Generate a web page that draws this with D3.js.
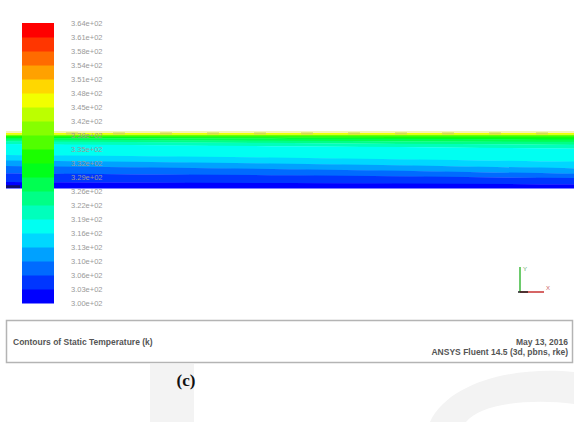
<!DOCTYPE html>
<html>
<head>
<meta charset="utf-8">
<script src="https://cdn.jsdelivr.net/npm/d3@7"></script>
<style>
body{margin:0;background:#fff;}
svg{display:block;}
</style>
</head>
<body>
<script>
// contour levels (K), top to bottom of the colour bar
var levelLabels=["3.64e+02","3.61e+02","3.58e+02","3.54e+02","3.51e+02","3.48e+02","3.45e+02","3.42e+02","3.38e+02","3.35e+02","3.32e+02","3.29e+02","3.26e+02","3.22e+02","3.19e+02","3.16e+02","3.13e+02","3.10e+02","3.06e+02","3.03e+02","3.00e+02"];
var bandCount=20;

// field: band index (0 = coldest) and depth of each band's lower edge
// 0 = top wall, 1 = bottom wall, read at inlet / middle / outlet
var fieldBands=[14,13,12,11,10,9,8,7,6,5,4,3,2,1,0];
var depthInlet=[0.025,0.035,0.045,0.055,0.07,0.09,0.12,0.15,0.20,0.40,0.50,0.60,0.73,0.89,1];
var depthMid=[0.025,0.035,0.045,0.06,0.08,0.10,0.14,0.18,0.24,0.45,0.56,0.66,0.77,0.91,1];
var depthOutlet=[0.025,0.035,0.045,0.06,0.085,0.12,0.16,0.21,0.28,0.52,0.64,0.74,0.82,0.93,1];
var stations=[0,0.5,1];

var titleLeft="Contours of Static Temperature (k)";
var dateText="May 13, 2016";
var versionText="ANSYS Fluent 14.5 (3d, pbns, rke)";
var caption="(c)";

var W=574,H=422;
var svg=d3.select("body").append("svg").attr("width",W).attr("height",H);

var color=d3.scaleLinear()
	.domain([0,0.25,0.5,0.75,1])
	.range(["#0000ff","#00ffff","#00ff00","#ffff00","#ff0000"]);
function bandColor(k){return color(k/(bandCount-1));}

// faint watermark shapes behind everything
var wm=svg.append("g").attr("fill","#f3f3f3");
wm.append("rect").attr("x",150).attr("y",364).attr("width",44).attr("height",58);
wm.append("path").attr("d","M430,422 C450,380 520,366 574,372 L574,404 C530,398 480,404 466,422 Z");

// ---- field ----
var fx=d3.scaleLinear().domain([0,1]).range([6,574]);
var fy=d3.scaleLinear().domain([0,1]).range([133,188]);
var depths=[depthInlet,depthMid,depthOutlet];

var field=svg.append("g");
fieldBands.forEach(function(k,i){
	var pts=stations.map(function(s,j){
		return {s:s,top:i==0?0:depths[j][i-1],bot:depths[j][i]};
	});
	var area=d3.area()
		.x(function(d){return fx(d.s);})
		.y0(function(d){return fy(d.top);})
		.y1(function(d){return fy(d.bot)+0.4;})
		.curve(d3.curveMonotoneX);
	field.append("path").attr("d",area(pts)).attr("fill",bandColor(k));
});
// dark seam at the inlet bottom corner
field.append("rect").attr("x",fx(0)).attr("y",fy(0.95)).attr("width",14).attr("height",fy(1)-fy(0.95)).attr("fill","#10106a");
// pale edge and dashed yellow marks along the top wall
field.append("line").attr("x1",fx(0)).attr("x2",fx(1)).attr("y1",fy(0)-1).attr("y2",fy(0)-1)
	.attr("stroke","#f3efa0").attr("stroke-width",1.5);
field.append("line").attr("x1",fx(0)+60).attr("x2",fx(1)).attr("y1",fy(0)+0.5).attr("y2",fy(0)+0.5)
	.attr("stroke","#d8dc48").attr("stroke-width",2).attr("stroke-dasharray","12,35");

// ---- colour bar ----
var ly=d3.scaleLinear().domain([0,bandCount]).range([303,23]);
var legend=svg.append("g");
legend.selectAll("rect").data(d3.range(bandCount)).enter().append("rect")
	.attr("x",22).attr("width",32)
	.attr("y",function(k){return ly(k+1);})
	.attr("height",function(k){return ly(k)-ly(k+1)+0.5;})
	.attr("fill",function(k){return bandColor(k);});
legend.selectAll("text").data(levelLabels).enter().append("text")
	.attr("x",71)
	.attr("y",function(d,i){return ly(bandCount-i)+2.5;})
	.attr("font-family","Liberation Sans, Arial, sans-serif")
	.attr("font-size",7.5)
	.attr("fill","#9a9a9a")
	.text(function(d){return d;});

// ---- axis triad ----
var triad=svg.append("g").attr("stroke-width",1.5);
triad.append("line").attr("x1",520).attr("y1",292).attr("x2",520).attr("y2",267).attr("stroke","#3cba3c");
triad.append("line").attr("x1",520).attr("y1",292).attr("x2",544).attr("y2",292).attr("stroke","#c83232");
triad.append("line").attr("x1",518).attr("y1",292).attr("x2",528).attr("y2",292).attr("stroke","#222");
triad.append("text").attr("x",523).attr("y",271).attr("font-size",6).attr("fill","#6a6").attr("font-family","Liberation Sans, sans-serif").text("Y");
triad.append("text").attr("x",546).attr("y",290).attr("font-size",6).attr("fill","#c66").attr("font-family","Liberation Sans, sans-serif").text("X");

// ---- title box ----
svg.append("rect").attr("x",6.5).attr("y",320.5).attr("width",566).attr("height",42)
	.attr("fill","#fff").attr("stroke","#b4b4b4").attr("stroke-width",1.5);
var tf="Liberation Sans, Arial, sans-serif";
svg.append("text").attr("x",13).attr("y",345).attr("font-family",tf).attr("font-size",8.5)
	.attr("font-weight","bold").attr("fill","#555").text(titleLeft);
svg.append("text").attr("x",568).attr("y",345).attr("text-anchor","end").attr("font-family",tf).attr("font-size",8.5)
	.attr("font-weight","bold").attr("fill","#555").text(dateText);
svg.append("text").attr("x",568).attr("y",355).attr("text-anchor","end").attr("font-family",tf).attr("font-size",8.5)
	.attr("font-weight","bold").attr("fill","#555").text(versionText);

svg.append("text").attr("x",186).attr("y",386).attr("text-anchor","middle")
	.attr("font-family","Liberation Serif, Times New Roman, serif").attr("font-size",17)
	.attr("font-weight","bold").attr("fill","#111").text(caption);
</script>
</body>
</html>
